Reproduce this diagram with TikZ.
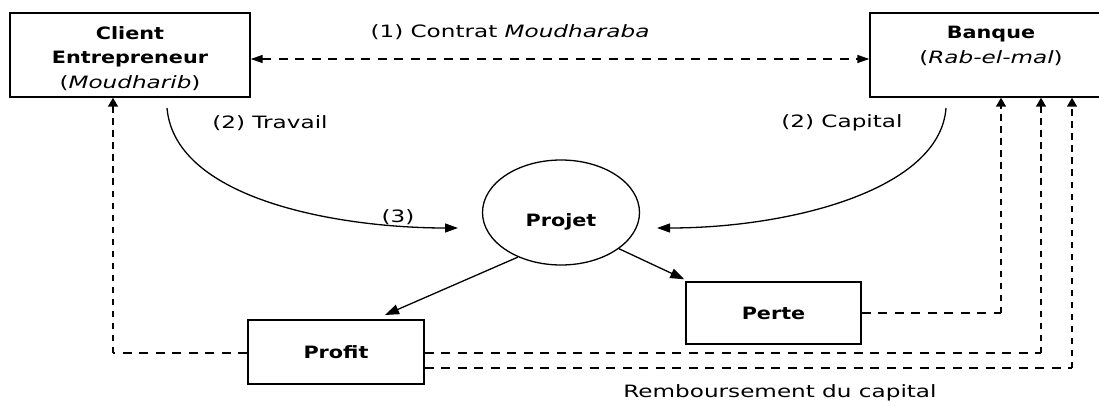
\documentclass[tikz,border=0pt]{standalone}
\usepackage{fontspec}
\setmainfont{DejaVu Sans}[FakeStretch=1.36]
\newfontfamily\boldfam{DejaVu Sans}[FakeStretch=1.22]
\usetikzlibrary{arrows.meta,shapes.geometric}
\newcommand\titlebf[1]{{\boldfam\bfseries #1}}

\tikzset{
  box/.style={draw, line width=1.4pt, align=center, inner sep=0pt},
  curve/.style={line width=1.3pt},
  hdash/.style={line width=1.4pt, dash pattern=on 9pt off 7.5pt},
  vdash/.style={line width=1.4pt, dash pattern=on 6.5pt off 5.5pt},
  htips/.style={{Triangle[length=12pt,width=8pt]}-{Triangle[length=12pt,width=8pt]}},
  vtip/.style={-{Triangle[length=9pt,width=10pt]}},
  ctip/.style={-{Triangle[length=13pt,width=9pt]}},
  dtip/.style={-{Triangle[length=14pt,width=10pt]}}
}

\begin{document}
\begin{tikzpicture}[x=1pt, y=-1pt, font=\fontsize{17}{24.5}\selectfont]
\useasboundingbox (0,0) rectangle (1099,406);
\clip (0,0) rectangle (1099,406);

% partners
\node[box, minimum width=240pt, minimum height=84pt] (client) at (130,55)
  {\rule{0pt}{19.6pt}\titlebf{Client}\\\titlebf{Entrepreneur}\\(\textit{Moudharib})};
\node[box, minimum width=242pt, minimum height=84pt] (banque) at (991,55)
  {\titlebf{Banque}\\(\textit{Rab-el-mal})\rule[-20pt]{0pt}{1pt}};

% contract between the partners
\draw[hdash, htips] ([yshift=-4pt]client.east) -- ([yshift=-4pt]banque.west);
\node (contrat) at (510,32) {(1) Contrat \textit{Moudharaba}};

% the project
\node[draw, ellipse, line width=1.3pt, minimum width=157pt, minimum height=105pt, inner sep=0pt] (projet) at (561,212.5) {};
\node (projetlbl) at (561,222) {\titlebf{Projet}};

% contributions
\coordinate (travS) at (167,108);
\coordinate (travE) at (458,228);
\draw[curve, ctip] (travS) .. controls (175,200) and (340,228) .. (travE);
\node (travail) at (270,123) {(2) Travail};
\node (trois) at (398,217) {(3)};

\coordinate (capS) at (946,108);
\coordinate (capE) at (657,228);
\draw[curve, ctip] (capS) .. controls (940,190) and (790,228) .. (capE);
\node (capital) at (842,123) {(2) Capital};

% outcomes
\node[box, minimum width=176pt, minimum height=64pt] (profit) at (336,352) {\titlebf{Profit}};
\node[box, minimum width=175pt, minimum height=62pt] (perte) at (773.5,313) {\titlebf{Perte}};

\coordinate (profitTip) at (385,315);
\draw[curve, dtip] (projet.226) -- (profitTip);
\draw[curve, dtip] (projet.328) -- ([xshift=-1pt,yshift=2pt]perte.north west);

% repayment lines
\coordinate (k0) at (113,0);
\coordinate (k1) at (1001,0);
\coordinate (k2) at (1041,0);
\coordinate (k3) at (1072,0);
\coordinate (pA) at ([yshift=-1pt]profit.west);
\coordinate (pB) at ([yshift=-1pt]profit.east);
\coordinate (pC) at ([yshift=-16pt]profit.east);

\draw[hdash] (pA) -- (pA -| k0);
\draw[vdash, vtip] (pA -| k0) -- (client.south -| k0);

\draw[hdash] (perte.east) -- (perte.east -| k1);
\draw[vdash, vtip] (perte.east -| k1) -- (banque.south -| k1);

\draw[hdash] (pB) -- (pB -| k2);
\draw[vdash, vtip] (pB -| k2) -- (banque.south -| k2);

\draw[hdash] (pC) -- (pC -| k3);
\draw[vdash, vtip] (pC -| k3) -- (banque.south -| k3);

\node (rembours) at (780,393) {Remboursement du capital};
\end{tikzpicture}
\end{document}
